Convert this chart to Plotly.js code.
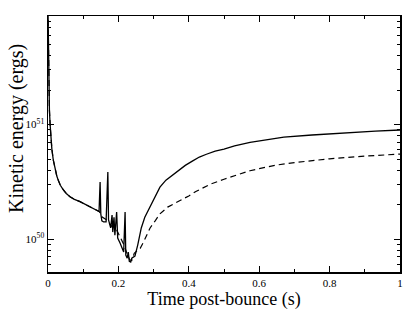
<!DOCTYPE html>
<html>
<head>
<meta charset="utf-8">
<script src="https://cdn.plot.ly/plotly-3.0.1.min.js"></script>
<style>
  body { margin: 0; background: #fff; }
  #plotArea { width: 415px; height: 321px; }
</style>
</head>
<body>
<div id="plotArea"></div>
<script>
// solid run: time (s) and kinetic energy (ergs)
var tSolid = [0, 0.002, 0.004, 0.006, 0.009, 0.011, 0.015, 0.02, 0.025, 0.029, 0.035, 0.044, 0.052, 0.0625, 0.075, 0.091, 0.105, 0.119, 0.133, 0.145,
    0.148, 0.150, 0.153, 0.158, 0.165, 0.170, 0.172, 0.178, 0.182, 0.184, 0.1875, 0.190, 0.195, 0.198,
    0.205, 0.21, 0.215, 0.219, 0.221, 0.225, 0.228, 0.231, 0.235, 0.238, 0.247, 0.255, 0.265, 0.275,
    0.29, 0.3, 0.31, 0.318, 0.335, 0.345, 0.355, 0.37, 0.39, 0.41, 0.43, 0.45, 0.475, 0.5, 0.53, 0.574, 0.62, 0.67, 0.75, 0.85, 0.93, 1.0];
var keSolid = [1e52, 2.45e51, 1.34e51, 1.0e51, 7.2e50, 6.1e50, 4.9e50, 4.0e50, 3.55e50, 3.27e50, 2.95e50, 2.68e50, 2.5e50, 2.34e50, 2.22e50, 2.12e50, 2.01e50, 1.92e50, 1.82e50, 1.74e50,
    3.15e50, 1.66e50, 1.44e50, 1.41e50, 1.41e50, 3.85e50, 1.47e50, 1.25e50, 1.62e50, 1.15e50, 1.55e50, 1.08e50, 1.72e50, 1.02e50,
    9.2e49, 8.4e49, 7.7e49, 1.72e50, 7.25e49, 6.8e49, 7.7e49, 6.4e49, 6.3e49, 6.8e49, 7.1e49, 8.9e49, 1.25e50, 1.55e50,
    1.9e50, 2.19e50, 2.5e50, 2.84e50, 3.27e50, 3.45e50, 3.62e50, 3.95e50, 4.4e50, 4.79e50, 5.2e50, 5.5e50, 5.85e50, 6.1e50, 6.5e50, 7.0e50, 7.4e50, 7.75e50, 8.1e50, 8.5e50, 8.75e50, 8.96e50];

// dashed run
var tDashed = [0, 0.002, 0.004, 0.006, 0.009, 0.011, 0.015, 0.02, 0.025, 0.029, 0.035, 0.044, 0.052, 0.0625, 0.075, 0.091, 0.105, 0.119, 0.133, 0.145,
    0.15, 0.155, 0.165, 0.175, 0.185, 0.195, 0.205, 0.215, 0.225, 0.232, 0.238, 0.245, 0.255, 0.262,
    0.272, 0.282, 0.29, 0.305, 0.318, 0.34, 0.36, 0.375, 0.4, 0.42, 0.44, 0.46, 0.5, 0.545, 0.574, 0.6, 0.65, 0.7, 0.75, 0.8, 0.9, 1.0];
var keDashed = [1e52, 2.45e51, 1.34e51, 1.0e51, 7.2e50, 6.1e50, 4.9e50, 4.0e50, 3.55e50, 3.27e50, 2.95e50, 2.68e50, 2.5e50, 2.34e50, 2.22e50, 2.12e50, 2.01e50, 1.92e50, 1.82e50, 1.74e50,
    1.66e50, 1.55e50, 1.48e50, 1.35e50, 1.25e50, 1.2e50, 1.05e50, 9.0e49, 7.4e49, 6.6e49, 6.5e49, 7.5e49, 8.0e49, 8.3e49,
    9.5e49, 1.1e50, 1.25e50, 1.45e50, 1.66e50, 1.9e50, 2.05e50, 2.15e50, 2.38e50, 2.6e50, 2.8e50, 3.0e50, 3.33e50, 3.7e50, 3.95e50, 4.12e50, 4.43e50, 4.65e50, 4.85e50, 5.02e50, 5.3e50, 5.52e50];

var xTickVals = [0, 0.2, 0.4, 0.6, 0.8, 1];
var xTickText = ["0", "0.2", "0.4", "0.6", "0.8", "1"];
var yTickVals = [1e50, 1e51];
var yTickText = ["10<sup>50</sup>", "10<sup>51</sup>"];
var yMinorVals = [6e49, 7e49, 8e49, 9e49, 2e50, 3e50, 4e50, 5e50, 6e50, 7e50, 8e50, 9e50,
    2e51, 3e51, 4e51, 5e51, 6e51, 7e51, 8e51];

var solid = {
    x: tSolid, y: keSolid,
    mode: "lines", type: "scatter",
    line: {color: "#000", width: 1.3}
};
var dashed = {
    x: tDashed, y: keDashed,
    mode: "lines", type: "scatter",
    line: {color: "#000", width: 1.2, dash: "6px,4px"}
};

var serif = "Liberation Serif, Times New Roman, serif";
var layout = {
    width: 415, height: 321,
    margin: {l: 48, r: 15, t: 16, b: 49},
    showlegend: false,
    paper_bgcolor: "#fff", plot_bgcolor: "#fff",
    font: {family: serif, color: "#000", size: 11},
    xaxis: {
        range: [0, 1],
        tickvals: xTickVals, ticktext: xTickText,
        ticks: "inside", ticklen: 6, tickwidth: 1, tickcolor: "#000",
        minor: {tickvals: [0.1, 0.3, 0.5, 0.7, 0.9], ticks: "inside", ticklen: 3, tickcolor: "#000"},
        showline: true, linecolor: "#000", linewidth: 1.5, mirror: "ticks",
        showgrid: false, zeroline: false,
        tickfont: {family: serif, size: 11},
        title: {text: "Time post-bounce (s)", font: {family: serif, size: 18}, standoff: 4}
    },
    yaxis: {
        type: "log",
        range: [49.712, 51.948],
        tickvals: yTickVals, ticktext: yTickText,
        ticks: "inside", ticklen: 6, tickwidth: 1, tickcolor: "#000",
        minor: {tickvals: yMinorVals, ticks: "inside", ticklen: 3, tickcolor: "#000"},
        showline: true, linecolor: "#000", linewidth: 1.5, mirror: "ticks",
        showgrid: false, zeroline: false,
        tickfont: {family: serif, size: 11}
    },
    // y title placed as annotation so it sits a bit above the plot centre like the original
    annotations: [{
        text: "Kinetic energy (ergs)",
        xref: "paper", yref: "paper",
        x: -0.09, y: 0.56,
        xanchor: "center", yanchor: "middle",
        textangle: -90, showarrow: false,
        font: {family: serif, size: 20, color: "#000"}
    }]
};

Plotly.newPlot("plotArea", [solid, dashed], layout, {staticPlot: true});
</script>
</body>
</html>
